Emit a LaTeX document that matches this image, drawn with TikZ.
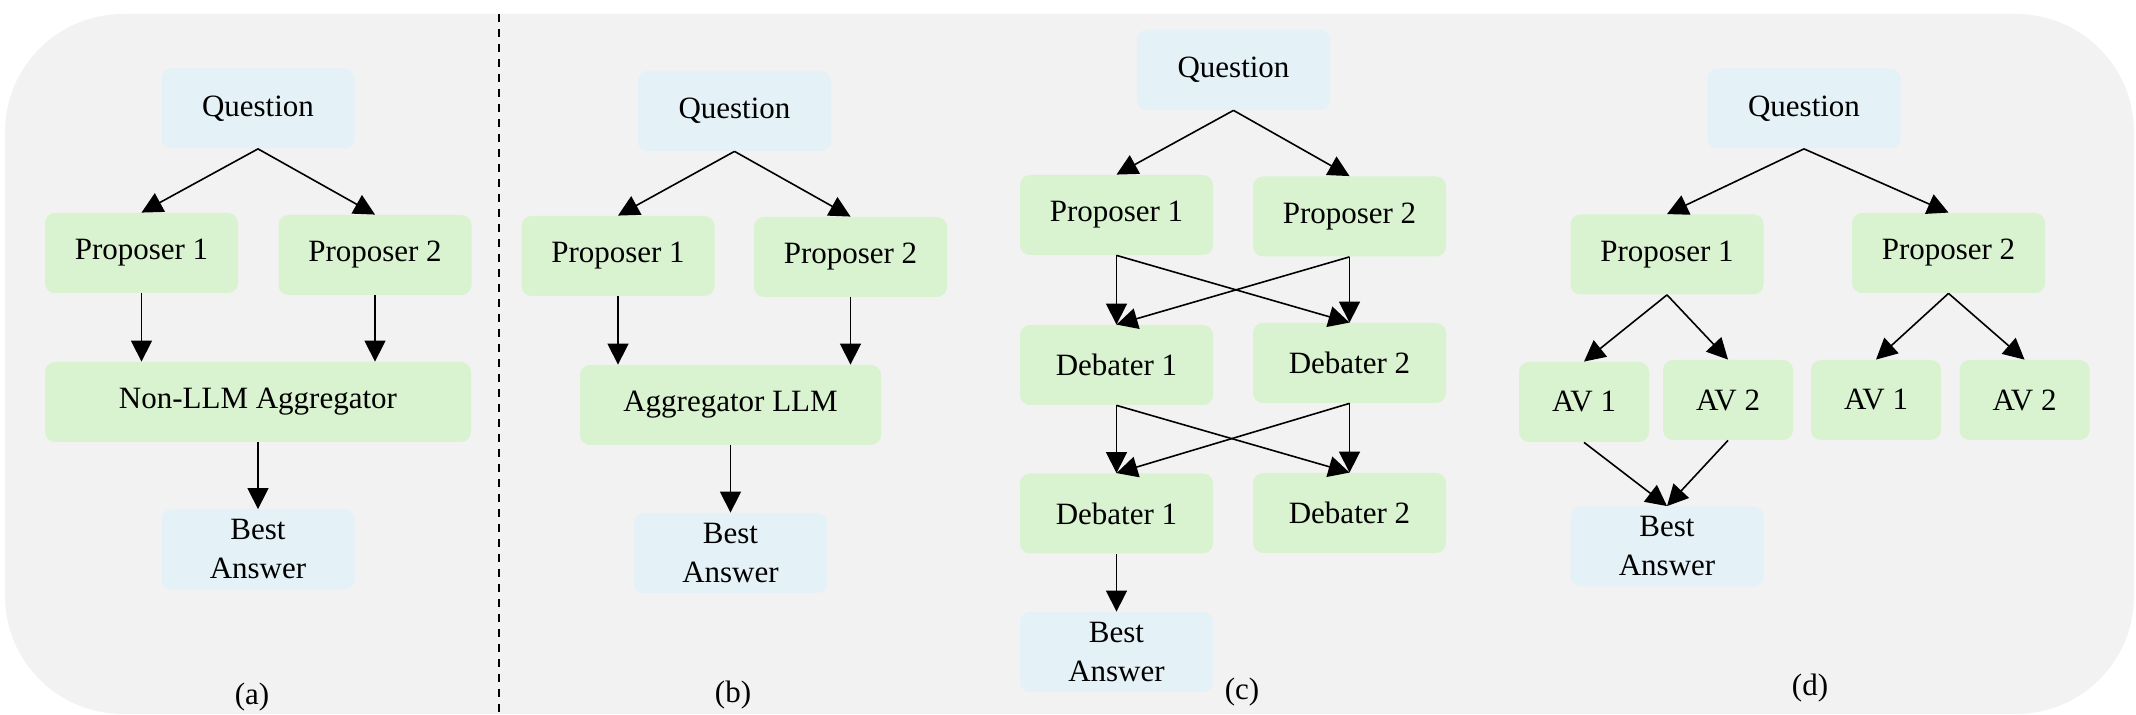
\documentclass[tikz,border=0pt]{standalone}
\usepackage{fontspec}
\setmainfont{Liberation Serif}
\usepackage{tikz}
\usetikzlibrary{arrows.meta}

\definecolor{panelgray}{HTML}{F2F2F2}
\definecolor{boxgreen}{HTML}{D9F2D0}
\definecolor{boxblue}{HTML}{E4F1F7}

\begin{document}
\begin{tikzpicture}[x=0.5pt,y=0.5pt,
    box/.style={rounded corners=5pt,minimum width=96.5pt,minimum height=40pt,
      inner sep=0pt,align=center,font=\fontsize{15.5}{19.5}\selectfont},
    greenbox/.style={box,fill=boxgreen},
    bluebox/.style={box,fill=boxblue},
    arr/.style={line width=0.8pt,-{Triangle[length=10.5pt,width=10.5pt]}},
    caption/.style={font=\fontsize{15.5}{19.5}\selectfont}]
  \useasboundingbox (0,0) rectangle (2136,715);
  \fill[panelgray,rounded corners=59pt] (5,1) rectangle (2134,701);
  \draw[line width=1pt,dash pattern=on 4pt off 3.5pt] (499,701) -- (499,2);

  % (a)
  \node[bluebox] (qa) at (258,606.5) {Question};
  \node[greenbox] (pa1) at (141.5,462) {Proposer 1};
  \node[greenbox] (pa2) at (375,460) {Proposer 2};
  \node[greenbox,minimum width=213pt] (agga) at (258,313) {Non-LLM Aggregator};
  \node[bluebox] (besta) at (258,165.5) {Best\\Answer};
  \node[caption] (capa) at (252,18) {(a)};
  \draw[arr] (qa.south) -- (pa1.north);
  \draw[arr] (qa.south) -- (pa2.north);
  \draw[arr] (pa1.south) -- (pa1.south |- agga.north);
  \draw[arr] (pa2.south) -- (pa2.south |- agga.north);
  \draw[arr] (agga.south) -- (besta.north);

  % (b)
  \node[bluebox] (qb) at (734.5,604) {Question};
  \node[greenbox] (pb1) at (618,459) {Proposer 1};
  \node[greenbox] (pb2) at (850.5,458) {Proposer 2};
  \node[greenbox,minimum width=150.5pt] (aggb) at (730.5,310) {Aggregator LLM};
  \node[bluebox] (bestb) at (730.5,162) {Best\\Answer};
  \node[caption] (capb) at (733,20) {(b)};
  \draw[arr] (qb.south) -- (pb1.north);
  \draw[arr] (qb.south) -- (pb2.north);
  \draw[arr] (pb1.south) -- (pb1.south |- aggb.north);
  \draw[arr] (pb2.south) -- (pb2.south |- aggb.north);
  \draw[arr] (aggb.south) -- (bestb.north);

  % (c)
  \node[bluebox] (qc) at (1233.5,645) {Question};
  \node[greenbox] (pc1) at (1116.5,500) {Proposer 1};
  \node[greenbox] (pc2) at (1349.5,498.5) {Proposer 2};
  \node[greenbox] (dc1) at (1116.5,350) {Debater 1};
  \node[greenbox] (dc2) at (1349.5,352) {Debater 2};
  \node[greenbox] (ec1) at (1116.5,201.5) {Debater 1};
  \node[greenbox] (ec2) at (1349.5,202) {Debater 2};
  \node[bluebox] (bestc) at (1116.5,63) {Best\\Answer};
  \node[caption] (capc) at (1242,23) {(c)};
  \draw[arr] (qc.south) -- (pc1.north);
  \draw[arr] (qc.south) -- (pc2.north);
  \draw[arr] (pc1.south) -- (dc1.north);
  \draw[arr] (pc1.south) -- (dc2.north);
  \draw[arr] (pc2.south) -- (dc2.north);
  \draw[arr] (pc2.south) -- (dc1.north);
  \draw[arr] (dc1.south) -- (ec1.north);
  \draw[arr] (dc1.south) -- (ec2.north);
  \draw[arr] (dc2.south) -- (ec2.north);
  \draw[arr] (dc2.south) -- (ec1.north);
  \draw[arr] (ec1.south) -- (bestc.north);

  % (d)
  \node[bluebox] (qd) at (1804,606.5) {Question};
  \node[greenbox] (pd1) at (1667,460.5) {Proposer 1};
  \node[greenbox] (pd2) at (1948.5,462) {Proposer 2};
  \node[greenbox,minimum width=65pt] (va1) at (1584,313) {AV 1};
  \node[greenbox,minimum width=65pt] (va2) at (1728,315) {AV 2};
  \node[greenbox,minimum width=65pt] (vb1) at (1876,315) {AV 1};
  \node[greenbox,minimum width=65pt] (vb2) at (2024.5,315) {AV 2};
  \node[bluebox] (bestd) at (1667,168.5) {Best\\Answer};
  \node[caption] (capd) at (1810,27) {(d)};
  \draw[arr] (qd.south) -- (pd1.north);
  \draw[arr] (qd.south) -- (pd2.north);
  \draw[arr] (pd1.south) -- (va1.north);
  \draw[arr] (pd1.south) -- (va2.north);
  \draw[arr] (pd2.south) -- (vb1.north);
  \draw[arr] (pd2.south) -- (vb2.north);
  \draw[arr] (va1.south) -- (bestd.north);
  \draw[arr] (va2.south) -- (bestd.north);
\end{tikzpicture}
\end{document}
